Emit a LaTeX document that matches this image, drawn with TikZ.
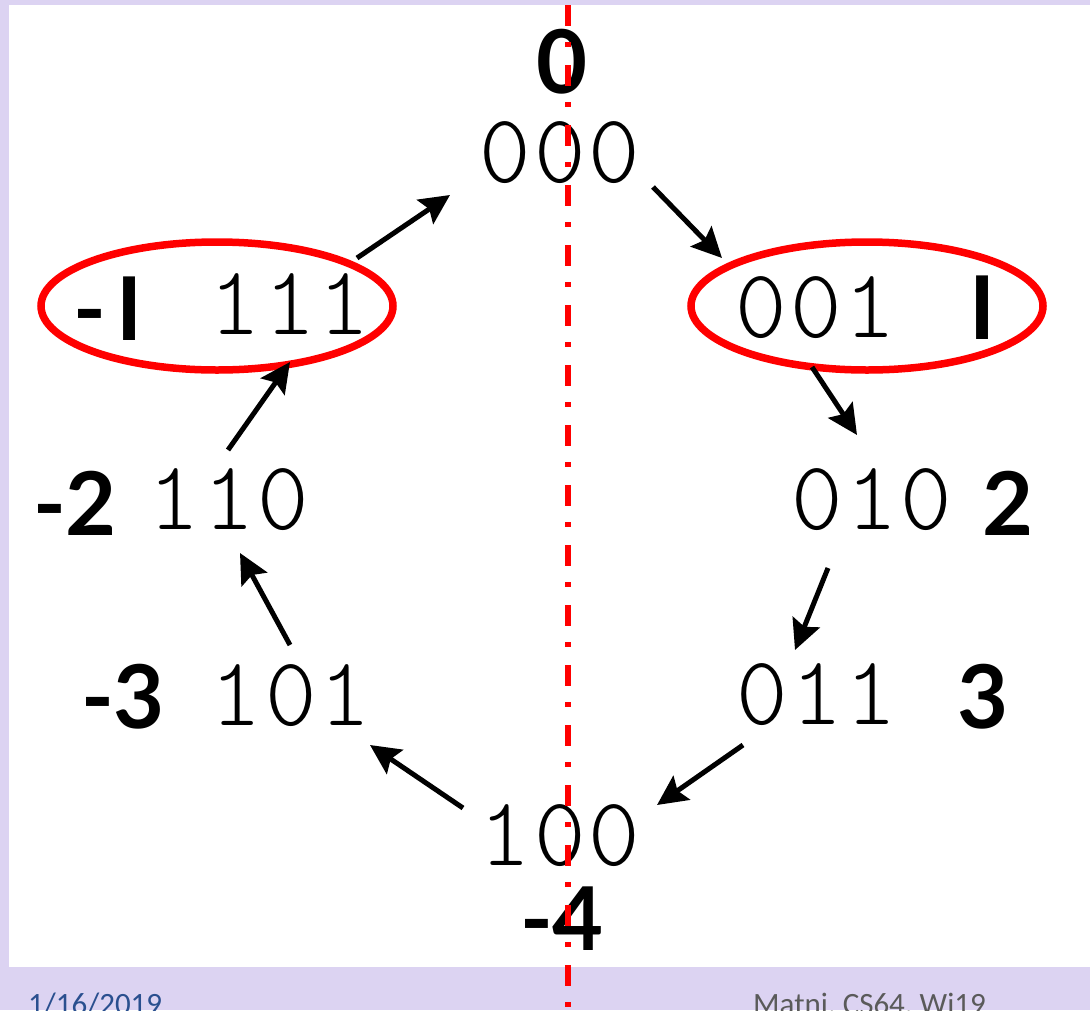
\documentclass[tikz,border=0pt]{standalone}
\usepackage{fontspec}
\usetikzlibrary{arrows.meta,shapes.geometric}
\newfontfamily\codefont[LetterSpace=3]{Latin Modern Mono Light}
\newfontfamily\valfont{Lato}
\newfontfamily\footfont{Carlito}
\definecolor{frame}{HTML}{DCD3F2}
\definecolor{footblue}{HTML}{2A4F8F}
\definecolor{footgray}{HTML}{5A5A5A}
\begin{document}
\begin{tikzpicture}[x=1pt,y=-1pt,
  code/.style={anchor=base,inner sep=0pt,font=\codefont\fontsize{98}{98}\selectfont},
  val/.style={anchor=base,inner sep=0pt,font=\valfont\bfseries\fontsize{88}{88}\selectfont},
  ring/.style={draw=red,line width=7.5pt,ellipse,minimum width=352pt,minimum height=128pt,inner sep=0pt},
  arr/.style={line width=5pt,-{Stealth[length=30pt,width=29pt,inset=5pt]}},
  axis/.style={draw=red,line width=6pt,dash pattern=on 21pt off 16pt on 5pt off 18pt},
  foot/.style={anchor=base west,inner sep=0pt,font=\footfont\fontsize{31}{31}\selectfont}]
% slide background and white panel
\fill[frame] (0,0) rectangle (1090,1010);
\fill[white] (9,5) rectangle (1090,967);
\useasboundingbox (0,0) rectangle (1090,1010);

% three-bit codes around the wheel
\node[code] (c000) at (560,182) {000};
\node[code] (c001) at (816,337) {001};
\node[code] (c010) at (872,529) {010};
\node[code] (c011) at (817,724) {011};
\node[code] (c100) at (560,865) {100};
\node[code] (c101) at (291,725) {101};
\node[code] (c110) at (229,529) {110};
\node[code] (c111) at (290,334) {111};

% signed values
\node[val] (v0)  at (562,93)  {0};
\node[val] (v1)  at (983,339) {I};
\node[val] (v2)  at (1008,535) {2};
\node[val] (v3)  at (983,728) {3};
\node[val] (vm4) at (562,950) {-4};
\node[val] (vm3) at (123,728) {-3};
\node[val] (vm2) at (75,535)  {-2};
\node[val] (vm1) at (108,340) {-\kern10pt I};

% circled pairs
\node[ring] (ringL) at (217,306) {};
\node[ring] (ringR) at (867,306) {};

% counting direction
\draw[arr] ([shift={(67,-76)}]c111.base)  -- ([shift={(-110,13)}]c000.base);
\draw[arr] ([shift={(93,5)}]c000.base)    -- ([shift={(-94,-79)}]c001.base);
\draw[arr] ([shift={(-4,30)}]c001.base)   -- ([shift={(-15,-94)}]c010.base);
\draw[arr] ([shift={(-44,39)}]c010.base)  -- ([shift={(-22,-74)}]c011.base);
\draw[arr] ([shift={(-74,21)}]c011.base)  -- ([shift={(97,-60)}]c100.base);
\draw[arr] ([shift={(-97,-57)}]c100.base) -- ([shift={(79,20)}]c101.base);
\draw[arr] ([shift={(-1,-80)}]c101.base)  -- ([shift={(11,24)}]c110.base);
\draw[arr] ([shift={(-1,-79)}]c110.base)  -- ([shift={(0,28)}]c111.base);

% footer
\node[foot,text=footblue] (date) at (28,1014) {1/16/2019};
\node[foot,text=footgray] (credit) at (753,1014) {Matni, CS64, Wi19};

% symmetry axis
\coordinate (axtop) at (568,5);
\coordinate (axbot) at (568,1010);
\draw[axis] (axtop) -- (axbot);
\end{tikzpicture}
\end{document}
